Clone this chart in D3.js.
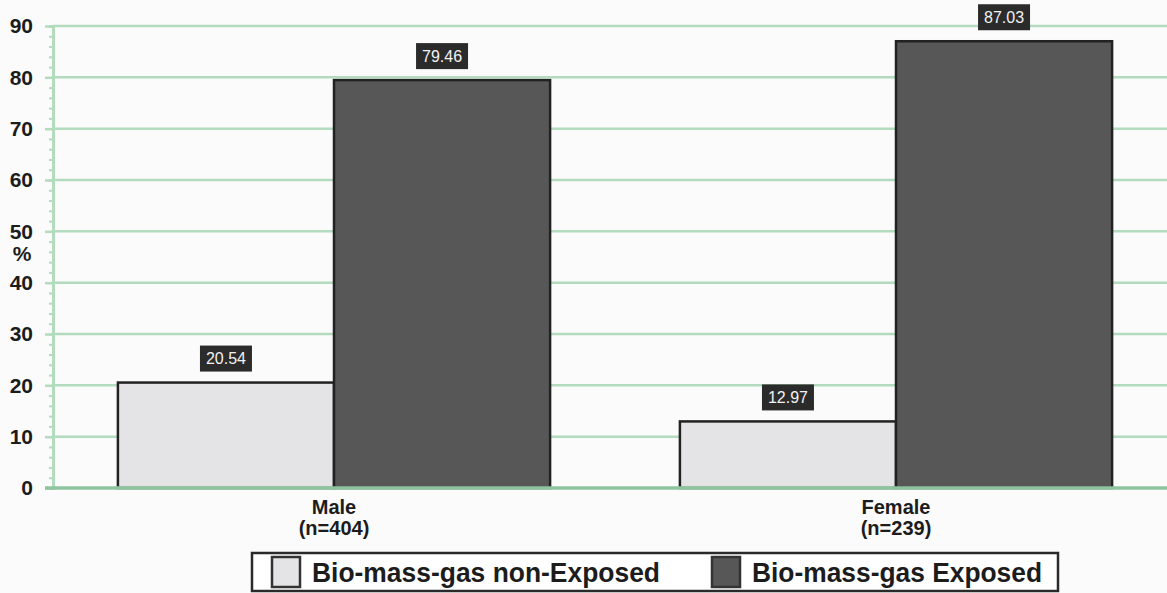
<!DOCTYPE html>
<html>
<head>
<meta charset="utf-8">
<script src="https://cdn.jsdelivr.net/npm/d3@7"></script>
<style>
  body { margin: 0; background: #fbfbfb; }
  text { font-family: "Liberation Sans", Arial, sans-serif; }
</style>
</head>
<body>
<div id="chart"></div>
<script>
const categories = ["Male", "Female"];
const categoryN = ["(n=404)", "(n=239)"];
const series = ["Bio-mass-gas non-Exposed", "Bio-mass-gas Exposed"];
const nonExposed = [20.54, 12.97];
const exposed = [79.46, 87.03];
const yTicks = [0, 10, 20, 30, 40, 50, 60, 70, 80, 90];

const width = 1167, height = 593;
const margin = { top: 26, right: -10, bottom: 105, left: 53 };
const innerWidth = width - margin.left - margin.right;
const innerHeight = height - margin.top - margin.bottom;

const colors = ["#e4e4e7", "#575757"];
const gridColor = "#b3dbbd";

const svg = d3.select("#chart")
  .append("svg")
  .attr("width", width).attr("height", height)
  .attr("viewBox", `0 0 ${width} ${height}`);

const innerChart = svg.append("g")
  .attr("transform", `translate(${margin.left},${margin.top})`);

const xScale = d3.scaleBand()
  .domain(categories)
  .range([0, innerWidth])
  .paddingInner(0.231)
  .paddingOuter(0.1155);

const xSub = d3.scaleBand()
  .domain(series)
  .range([0, xScale.bandwidth()]);

const yScale = d3.scaleLinear().domain([0, 90]).range([innerHeight, 0]);

// gridlines
innerChart.append("g").attr("class", "grid")
  .selectAll("line").data(yTicks.slice(1)).join("line")
    .attr("x1", 0).attr("x2", innerWidth)
    .attr("y1", d => yScale(d)).attr("y2", d => yScale(d))
    .attr("stroke", gridColor).attr("stroke-width", 2.5);

// y axis (green with minor ticks)
const yAxisMinor = d3.axisLeft(yScale).tickValues(d3.range(0, 91, 2)).tickSize(4).tickFormat("");
innerChart.append("g").attr("class", "axis axis--y-minor")
  .call(yAxisMinor)
  .call(g => g.selectAll("line").attr("stroke", gridColor).attr("stroke-width", 2))
  .call(g => g.select(".domain").attr("stroke", gridColor).attr("stroke-width", 3));

const yAxis = d3.axisLeft(yScale).tickValues(yTicks).tickSize(8).tickPadding(12);
innerChart.append("g").attr("class", "axis axis--y")
  .call(yAxis)
  .call(g => g.select(".domain").remove())
  .call(g => g.selectAll("line").attr("stroke", gridColor).attr("stroke-width", 2.5))
  .call(g => g.selectAll("text")
    .attr("fill", "#1c1c1c")
    .attr("font-size", 21)
    .attr("font-weight", "bold"));

svg.append("text")
  .attr("x", 22).attr("y", 261)
  .attr("text-anchor", "middle")
  .attr("font-size", 21).attr("font-weight", "bold").attr("fill", "#1c1c1c")
  .text("%");

// bars
const groups = innerChart.append("g").attr("class", "bars")
  .selectAll("g").data(categories).join("g")
    .attr("transform", d => `translate(${xScale(d)},0)`);

const barData = (c, i) => [
  { key: series[0], value: nonExposed[i], color: colors[0] },
  { key: series[1], value: exposed[i], color: colors[1] }
];

groups.each(function (c, i) {
  const g = d3.select(this);
  const data = barData(c, i);
  g.selectAll("rect").data(data).join("rect")
    .attr("x", d => xSub(d.key))
    .attr("y", d => yScale(d.value))
    .attr("width", xSub.bandwidth())
    .attr("height", d => innerHeight - yScale(d.value))
    .attr("fill", d => d.color)
    .attr("stroke", "#222")
    .attr("stroke-width", 2.5);

  const lbl = g.selectAll("g.lbl").data(data).join("g")
    .attr("class", "lbl")
    .attr("transform", d => `translate(${xSub(d.key) + xSub.bandwidth() / 2},${yScale(d.value) - 24})`);
  lbl.append("rect")
    .attr("x", -26).attr("y", -13).attr("width", 52).attr("height", 26)
    .attr("fill", "#2b2b2b");
  lbl.append("text")
    .attr("text-anchor", "middle").attr("dy", "0.36em")
    .attr("fill", "#f2f2f2").attr("font-size", 16)
    .text(d => d.value.toFixed(2));
});

// x axis
const xAxis = d3.axisBottom(xScale).tickSize(0).tickFormat("");
innerChart.append("g").attr("class", "axis axis--x")
  .attr("transform", `translate(0,${innerHeight})`)
  .call(xAxis)
  .call(g => g.select(".domain").attr("stroke", "#8fc4a0").attr("stroke-width", 3.5).attr("d", `M-8,0H${innerWidth}`));

// category labels
const catLabels = innerChart.append("g").attr("class", "cat-labels")
  .selectAll("text").data(categories).join("text")
    .attr("x", d => xScale(d) + xScale.bandwidth() / 2)
    .attr("y", innerHeight + 26)
    .attr("text-anchor", "middle")
    .attr("font-size", 20).attr("font-weight", "bold").attr("fill", "#1c1c1c");
catLabels.append("tspan").text(d => d);
catLabels.append("tspan")
  .attr("x", d => xScale(d) + xScale.bandwidth() / 2)
  .attr("dy", 21)
  .text((d, i) => categoryN[i]);

// legend
const legend = svg.append("g").attr("class", "legend")
  .attr("transform", "translate(252,553)");
legend.append("rect")
  .attr("width", 806).attr("height", 38)
  .attr("fill", "#fff").attr("stroke", "#2a2a2a").attr("stroke-width", 2.5);

const legendX = [20, 460];
const legendLen = [348, 290];
series.forEach((s, i) => {
  const g = legend.append("g").attr("transform", `translate(${legendX[i]},4)`);
  g.append("rect").attr("width", 28).attr("height", 30)
    .attr("fill", colors[i]).attr("stroke", "#333").attr("stroke-width", 2.5);
  g.append("text").attr("x", 40).attr("y", 25)
    .attr("font-size", 27).attr("font-weight", "bold").attr("fill", "#1c1c1c")
    .attr("textLength", legendLen[i]).attr("lengthAdjust", "spacingAndGlyphs")
    .text(s);
});
</script>
</body>
</html>
